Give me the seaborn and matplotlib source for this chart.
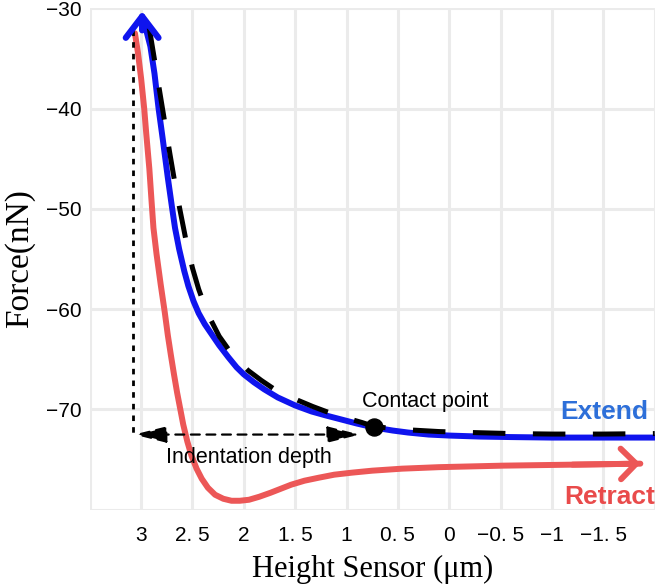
import numpy as np
import matplotlib.pyplot as plt
import pandas as pd
import seaborn as sns

# extend curve (blue)
extend_x = [2.99, 2.95, 2.91, 2.87, 2.83, 2.79, 2.74, 2.70, 2.67, 2.63, 2.58, 2.54, 2.49, 2.44,
            2.38, 2.32, 2.24, 2.15, 2.07, 2.00, 1.90, 1.80, 1.67, 1.50, 1.34, 1.20, 1.05, 0.90,
            0.73, 0.55, 0.40, 0.20, 0.00, -0.30, -0.60, -1.00, -1.50, -2.00]
extend_y = [-31.0, -32.2, -33.8, -36.5, -40.0, -43.0, -46.9, -49.8, -51.9, -54.0, -56.2, -57.7, -59.2, -60.4,
            -61.5, -62.4, -63.6, -64.8, -65.8, -66.5, -67.3, -68.0, -68.8, -69.6, -70.2, -70.6, -71.0, -71.4,
            -71.8, -72.1, -72.3, -72.5, -72.6, -72.7, -72.75, -72.8, -72.8, -72.8]

# fitted curve (black dashed)
fit_x = [2.92, 2.88, 2.84, 2.80, 2.76, 2.72, 2.67, 2.62, 2.56, 2.50, 2.44, 2.38, 2.32, 2.24, 2.15,
         2.05, 1.96, 1.83, 1.70, 1.58, 1.47, 1.33, 1.20, 1.02, 0.85, 0.73, 0.55, 0.36, 0.10, -0.23,
         -0.60, -1.00, -1.50, -2.00]
fit_y = [-32.0, -34.5, -37.0, -39.5, -42.0, -44.5, -47.5, -50.2, -53.3, -55.9, -58.0, -59.7, -61.1, -62.7, -64.0,
         -65.2, -66.1, -67.1, -68.0, -68.6, -69.1, -69.7, -70.2, -70.8, -71.3, -71.7, -71.9, -72.05, -72.2, -72.3,
         -72.4, -72.45, -72.45, -72.4]

# retract curve (red)
retract_x = [3.06, 3.03, 3.00, 2.97, 2.95, 2.92, 2.90, 2.88, 2.85, 2.81, 2.77, 2.74, 2.71, 2.68, 2.65,
             2.62, 2.59, 2.55, 2.51, 2.46, 2.41, 2.35, 2.28, 2.20, 2.12, 2.04, 1.95, 1.85, 1.74, 1.64,
             1.54, 1.41, 1.27, 1.12, 0.95, 0.75, 0.46, 0.10, -0.52, -1.20, -1.86]
retract_y = [-32.5, -34.5, -37.0, -40.0, -42.5, -46.0, -49.0, -51.9, -54.5, -57.5, -60.3, -62.6, -64.6, -66.5, -68.3,
             -69.9, -71.5, -73.2, -74.6, -75.9, -76.9, -77.8, -78.5, -78.9, -79.1, -79.1, -79.0, -78.7, -78.3, -77.9,
             -77.5, -77.1, -76.8, -76.5, -76.3, -76.1, -75.9, -75.75, -75.6, -75.5, -75.4]

contact_x, contact_y = 0.73, -71.7
extend_tip = (2.99, -30.3)
indent_x = [3.07, 0.87]
indent_y = -72.5
dotted_x = 3.08
dotted_y = [-32.2, -72.5]

xtick_vals = [3.5, 3, 2.5, 2, 1.5, 1, 0.5, 0, -0.5, -1, -1.5, -2]
xtick_labels = ['', '3', '2. 5', '2', '1. 5', '1', '0. 5', '0', '\u22120. 5', '\u22121', '\u22121. 5', '']
ytick_vals = [-80, -70, -60, -50, -40, -30]
ytick_labels = ['', '\u221270', '\u221260', '\u221250', '\u221240', '\u221230']

sns.set_theme(style='whitegrid', rc={'grid.color': '#ebebeb', 'grid.linewidth': 2.2,
                                     'axes.edgecolor': 'white', 'xtick.major.size': 0,
                                     'ytick.major.size': 0, 'xtick.color': 'black',
                                     'ytick.color': 'black', 'axes.labelcolor': 'black'})
plt.rcParams['font.family'] = ['Liberation Sans', 'DejaVu Sans']

blue = '#0f14ee'
red = '#ec5757'

fig, ax = plt.subplots(figsize=(6.6, 5.88), dpi=100)
fig.subplots_adjust(left=0.136, right=0.992, top=0.986, bottom=0.133)

ext = pd.DataFrame({'x': extend_x, 'y': extend_y})
ret = pd.DataFrame({'x': retract_x, 'y': retract_y})
fit = pd.DataFrame({'x': fit_x, 'y': fit_y})

sns.lineplot(data=ret, x='x', y='y', sort=False, color=red, linewidth=4.3, ax=ax)
sns.lineplot(data=ext, x='x', y='y', sort=False, color=blue, linewidth=4.3, ax=ax)
sns.lineplot(data=fit, x='x', y='y', sort=False, color='black', linewidth=3.6, ax=ax)
ax.lines[-1].set_dashes([6.5, 5.5])
for ln in ax.lines:
    ln.set_solid_joinstyle('round')

# arrow heads
ax.annotate('', xy=extend_tip, xytext=(extend_tip[0], extend_y[1]),
            arrowprops=dict(arrowstyle='->,head_length=0.55,head_width=0.42', color=blue,
                            lw=4.5, mutation_scale=28, shrinkA=0, shrinkB=0))
ax.annotate('', xy=(retract_x[-1], retract_y[-1]), xytext=(retract_x[-2], retract_y[-2]),
            arrowprops=dict(arrowstyle='->,head_length=0.5,head_width=0.5', color=red,
                            lw=4.3, mutation_scale=22, shrinkA=0, shrinkB=0))

# dotted vertical line and indentation depth arrow
ax.plot([dotted_x, dotted_x], dotted_y, color='black', lw=2.0, linestyle=(0, (2, 2.2)))
ax.annotate('', xy=(indent_x[0], indent_y), xytext=(indent_x[1], indent_y),
            arrowprops=dict(arrowstyle='<|-|>,head_length=1.0,head_width=0.25', color='black',
                            lw=1.6, linestyle=(0, (4, 3)), mutation_scale=20,
                            shrinkA=0, shrinkB=0))

ax.scatter([contact_x], [contact_y], s=150, color='black', zorder=5)

ax.text(0.23, -69.2, 'Contact point', fontsize=15.5, ha='center', va='center', color='black')
ax.text(1.95, -74.8, 'Indentation depth', fontsize=15.5, ha='center', va='center', color='black')
ax.text(-1.51, -70.3, 'Extend', fontsize=19, fontweight='bold', ha='center', va='center',
        color='#2d6fd9')
ax.text(-1.56, -78.7, 'Retract', fontsize=19, fontweight='bold', ha='center', va='center',
        color='#e94b4b')

ax.set_xlim(3.5, -2.0)
ax.set_ylim(-80, -30)
ax.set_xticks(xtick_vals)
ax.set_xticklabels(xtick_labels, fontsize=15)
ax.set_yticks(ytick_vals)
ax.set_yticklabels(ytick_labels, fontsize=15)
ax.tick_params(axis='x', pad=12)
ax.tick_params(axis='y', pad=6)
for s in ax.spines.values():
    s.set_visible(False)

ax.set_xlabel('Height Sensor (\u03bcm)', fontsize=22, family='Liberation Serif', labelpad=7)
ax.set_ylabel('Force(nN)', fontsize=24, family='Liberation Serif', labelpad=8)

plt.savefig('out.png', dpi=100)
